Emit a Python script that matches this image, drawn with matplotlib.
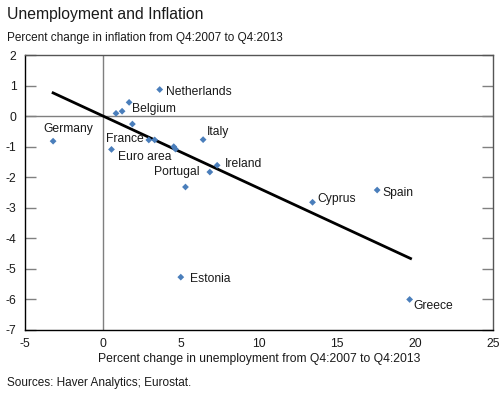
import matplotlib
matplotlib.use("Agg")
import matplotlib.pyplot as plt

countries = ["Germany", "Netherlands", "Belgium", "", "", "", "France", "", "", "Euro area",
             "Portugal", "Italy", "", "Ireland", "Cyprus", "Spain", "Estonia", "Greece"]
unemp = [-3.2, 3.63, 1.22, 1.67, 0.83, 1.88, 2.93, 3.31, 0.54, 4.53,
         5.28, 6.41, 6.84, 7.31, 13.42, 17.56, 4.98, 19.64]
infl = [-0.82, 0.87, 0.16, 0.45, 0.09, -0.26, -0.78, -0.78, -1.09, -1.0,
        -2.32, -0.77, -1.83, -1.61, -2.82, -2.42, -5.27, -6.0]
extra_x = [4.64]
extra_y = [-1.08]

trend_x = [-3.2, 19.7]
trend_y = [0.76, -4.66]

labels = {
    "Netherlands": (4.03, 0.79, "left"),
    "Belgium": (1.88, 0.22, "left"),
    "Germany": (-2.23, -0.42, "center"),
    "France": (0.17, -0.75, "left"),
    "Euro area": (0.94, -1.34, "left"),
    "Portugal": (3.25, -1.82, "left"),
    "Italy": (6.65, -0.52, "left"),
    "Ireland": (7.8, -1.57, "left"),
    "Cyprus": (13.76, -2.71, "left"),
    "Spain": (17.9, -2.51, "left"),
    "Estonia": (5.6, -5.33, "left"),
    "Greece": (19.9, -6.23, "left"),
}

xticks = [-5, 0, 5, 10, 15, 20, 25]
yticks = [2, 1, 0, -1, -2, -3, -4, -5, -6, -7]

plt.rcParams['font.family'] = ['Liberation Sans', 'DejaVu Sans']

fig = plt.figure(figsize=(5.04, 3.96), dpi=100)
W, H = 504, 396
ax = fig.add_axes([25 / W, 1 - 330 / H, (493.3 - 25) / W, (330 - 55) / H])

ax.set_xlim(-5, 25)
ax.set_ylim(-7, 2)
ax.axhline(0, color="#7f7f7f", lw=1.0, zorder=1)
ax.axvline(0, color="#7f7f7f", lw=1.0, zorder=1)

ax.plot(trend_x, trend_y, color="black", lw=2.0, zorder=2)
ax.scatter(unemp + extra_x, infl + extra_y, marker="D", s=12, color="#4a7ebb",
           edgecolors="none", zorder=3)

for name, (tx, ty, ha) in labels.items():
    ax.text(tx, ty, name, ha=ha, va="center", fontsize=8.7, color="#1a1a1a", zorder=4)

ax.set_xticks(xticks)
ax.set_yticks(yticks)
ax.set_xticklabels([str(t) for t in xticks])
ax.set_yticklabels([str(t) for t in yticks])
ax.tick_params(axis="x", length=0, labelsize=8.7, pad=6, colors="#1a1a1a")
ax.tick_params(axis="y", direction="in", length=8, width=1.0, labelsize=8.7, pad=6,
               labelcolor="#1a1a1a", color="#808080", right=True, left=True)

for side in ["left", "bottom"]:
    ax.spines[side].set_color("black")
    ax.spines[side].set_linewidth(1.0)
for side in ["top", "right"]:
    ax.spines[side].set_color("#555555")
    ax.spines[side].set_linewidth(1.0)

ax.set_xlabel("Percent change in unemployment from Q4:2007 to Q4:2013",
              fontsize=8.7, color="#1a1a1a", labelpad=2)

fig.text(7 / W, 1 - 14 / H, "Unemployment and Inflation", fontsize=11.3,
         ha="left", va="center", color="#1a1a1a")
fig.text(7 / W, 1 - 38 / H, "Percent change in inflation from Q4:2007 to Q4:2013",
         fontsize=8.5, ha="left", va="center", color="#1a1a1a")
fig.text(7 / W, 1 - 383 / H, "Sources: Haver Analytics; Eurostat.",
         fontsize=8.5, ha="left", va="center", color="#1a1a1a")

fig.savefig("out.png", dpi=100)
